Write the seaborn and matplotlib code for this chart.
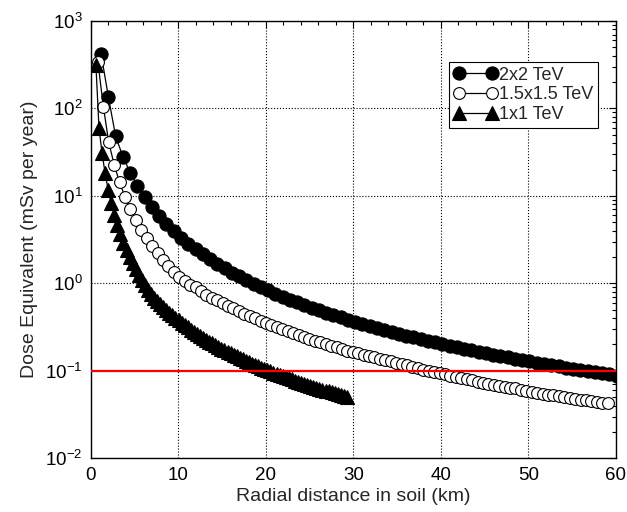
import matplotlib
matplotlib.use('Agg')
import matplotlib.pyplot as plt
from matplotlib.ticker import MultipleLocator, LogLocator, NullFormatter
import seaborn as sns

# Dose equivalent (mSv per year) vs radial distance in soil (km)
x_2x2 = [1.17, 2.00, 2.83, 3.66, 4.49, 5.32, 6.15, 6.98, 7.81, 8.64, 9.47, 10.30, 11.13, 11.96,
         12.79, 13.62, 14.45, 15.28, 16.11, 16.94, 17.77, 18.60, 19.43, 20.26, 21.09, 21.92,
         22.75, 23.58, 24.41, 25.24, 26.07, 26.90, 27.73, 28.56, 29.39, 30.22, 31.05, 31.88,
         32.71, 33.54, 34.37, 35.20, 36.03, 36.86, 37.69, 38.52, 39.35, 40.18, 41.01, 41.84,
         42.67, 43.50, 44.33, 45.16, 45.99, 46.82, 47.65, 48.48, 49.31, 50.14, 50.97, 51.80,
         52.63, 53.46, 54.29, 55.12, 55.95, 56.78, 57.61, 58.44, 59.27, 60.10]
dose_2x2 = [417, 135, 47.8, 28.1, 18.5, 13.0, 9.66, 7.44, 5.90, 4.80, 3.97, 3.34, 2.85, 2.45,
            2.14, 1.88, 1.66, 1.48, 1.33, 1.20, 1.09, 0.988, 0.903, 0.829, 0.763, 0.705,
            0.653, 0.606, 0.564, 0.527, 0.493, 0.462, 0.434, 0.408, 0.385, 0.363, 0.344, 0.326,
            0.309, 0.293, 0.279, 0.266, 0.253, 0.241, 0.231, 0.221, 0.211, 0.202, 0.194, 0.186,
            0.179, 0.172, 0.165, 0.159, 0.153, 0.148, 0.142, 0.137, 0.133, 0.128, 0.124, 0.120,
            0.116, 0.112, 0.109, 0.105, 0.102, 0.0992, 0.0963, 0.0935, 0.0908, 0.0882]

x_15x15 = [0.80, 1.42, 2.04, 2.66, 3.28, 3.90, 4.52, 5.14, 5.76, 6.38, 7.00, 7.62, 8.24, 8.86,
           9.48, 10.10, 10.72, 11.34, 11.96, 12.58, 13.20, 13.82, 14.44, 15.06, 15.68, 16.30,
           16.92, 17.54, 18.16, 18.78, 19.40, 20.02, 20.64, 21.26, 21.88, 22.50, 23.12, 23.74,
           24.36, 24.98, 25.60, 26.22, 26.84, 27.46, 28.08, 28.70, 29.32, 29.94, 30.56, 31.18,
           31.80, 32.42, 33.04, 33.66, 34.28, 34.90, 35.52, 36.14, 36.76, 37.38, 38.00, 38.62,
           39.24, 39.86, 40.48, 41.10, 41.72, 42.34, 42.96, 43.58, 44.20, 44.82, 45.44, 46.06,
           46.68, 47.30, 47.92, 48.54, 49.16, 49.78, 50.40, 51.02, 51.64, 52.26, 52.88, 53.50,
           54.12, 54.74, 55.36, 55.98, 56.60, 57.22, 57.84, 58.46, 59.08]
dose_15x15 = [339, 105, 41.0, 22.7, 14.3, 9.72, 7.01, 5.27, 4.09, 3.26, 2.65, 2.20, 1.85, 1.57,
              1.35, 1.19, 1.07, 0.959, 0.897, 0.816, 0.745, 0.683, 0.637, 0.601, 0.557, 0.518,
              0.482, 0.450, 0.422, 0.397, 0.373, 0.351, 0.331, 0.313, 0.297, 0.282, 0.267, 0.254,
              0.242, 0.232, 0.221, 0.211, 0.202, 0.193, 0.185, 0.178, 0.170, 0.164, 0.158, 0.152,
              0.147, 0.142, 0.136, 0.132, 0.128, 0.123, 0.119, 0.115, 0.111, 0.108, 0.102, 0.0993,
              0.0964, 0.0934, 0.0907, 0.0881, 0.0856, 0.0832, 0.0801, 0.0779, 0.0750, 0.0730,
              0.0712, 0.0694, 0.0676, 0.0660, 0.0643, 0.0628, 0.0607, 0.0592, 0.0572, 0.0559,
              0.0546, 0.0534, 0.0522, 0.0511, 0.0500, 0.0489, 0.0479, 0.0469, 0.0459, 0.0450,
              0.0441, 0.0432, 0.0424]

x_1x1 = [0.57, 0.92, 1.27, 1.62, 1.97, 2.32, 2.67, 3.02, 3.37, 3.72, 4.07, 4.42, 4.77, 5.12,
         5.47, 5.82, 6.17, 6.52, 6.87, 7.22, 7.57, 7.92, 8.27, 8.62, 8.97, 9.32, 9.67, 10.02,
         10.37, 10.72, 11.07, 11.42, 11.77, 12.12, 12.47, 12.82, 13.17, 13.52, 13.87, 14.22,
         14.57, 14.92, 15.27, 15.62, 15.97, 16.32, 16.67, 17.02, 17.37, 17.72, 18.07, 18.42,
         18.77, 19.12, 19.47, 19.82, 20.17, 20.52, 20.87, 21.22, 21.57, 21.92, 22.27, 22.62,
         22.97, 23.32, 23.67, 24.02, 24.37, 24.72, 25.07, 25.42, 25.77, 26.12, 26.47, 26.82,
         27.17, 27.52, 27.87, 28.22, 28.57, 28.92, 29.27]
dose_1x1 = [316, 60.3, 31.0, 18.2, 11.8, 8.24, 6.05, 4.61, 3.62, 2.92, 2.39, 2.00, 1.69, 1.44,
            1.25, 1.09, 0.958, 0.849, 0.756, 0.678, 0.622, 0.574, 0.532, 0.494, 0.461, 0.431,
            0.403, 0.379, 0.355, 0.334, 0.314, 0.296, 0.280, 0.265, 0.251, 0.238, 0.227, 0.216,
            0.206, 0.196, 0.187, 0.179, 0.171, 0.164, 0.158, 0.151, 0.146, 0.140, 0.135, 0.130,
            0.125, 0.121, 0.116, 0.112, 0.109, 0.105, 0.102, 0.0984, 0.0954, 0.0924, 0.0897,
            0.0870, 0.0844, 0.0820, 0.0796, 0.0774, 0.0752, 0.0732, 0.0712, 0.0693, 0.0675,
            0.0658, 0.0641, 0.0625, 0.0610, 0.0595, 0.0581, 0.0567, 0.0553, 0.0541, 0.0528,
            0.0516, 0.0505]

limit_dose = 0.1
labels = ['2x2 TeV', '1.5x1.5 TeV', '1x1 TeV']

sns.set_style('white')
plt.rcParams['font.family'] = ['Liberation Sans', 'DejaVu Sans']
plt.rcParams['mathtext.default'] = 'regular'
plt.rcParams['xtick.direction'] = 'in'
plt.rcParams['ytick.direction'] = 'in'

fig = plt.figure(figsize=(6.27, 5.12), dpi=100)
ax = fig.add_axes([0.145, 0.105, 0.837, 0.854])

line_kw = dict(color='black', linewidth=0.9, markeredgecolor='black',
               markeredgewidth=0.8, ax=ax, errorbar=None, sort=False)
sns.lineplot(x=x_2x2, y=dose_2x2, marker='o', markersize=9.5, markerfacecolor='black',
             label=labels[0], **line_kw)
sns.lineplot(x=x_15x15, y=dose_15x15, marker='o', markersize=8.5, markerfacecolor='white',
             label=labels[1], **line_kw)
sns.lineplot(x=x_1x1, y=dose_1x1, marker='^', markersize=9.5, markerfacecolor='black',
             label=labels[2], **line_kw)

# annual limit line
ax.axhline(limit_dose, color='red', linewidth=1.6, zorder=5)

ax.set_yscale('log')
ax.set_xlim(0, 60)
ax.set_ylim(1e-2, 1e3)
ax.xaxis.set_major_locator(MultipleLocator(10))
ax.xaxis.set_minor_locator(MultipleLocator(2))
ax.yaxis.set_major_locator(LogLocator(base=10, numticks=10))
ax.yaxis.set_minor_locator(LogLocator(base=10, subs=range(2, 10), numticks=20))
ax.yaxis.set_minor_formatter(NullFormatter())
ax.tick_params(which='both', top=True, right=True, colors='black', labelsize=13.5)
ax.tick_params(which='major', length=5, width=0.8, pad=6)
ax.tick_params(which='minor', length=3, width=0.8)
ax.grid(True, which='major', color='black', linestyle=':', linewidth=0.8)
for s in ax.spines.values():
    s.set_color('black')
    s.set_linewidth(1.0)

ax.set_xlabel('Radial distance in soil (km)', fontsize=14, labelpad=3)
ax.set_ylabel('Dose Equivalent (mSv per year)', fontsize=14, labelpad=5)

leg = ax.legend(loc='upper right', bbox_to_anchor=(0.966, 0.906), borderaxespad=0,
                numpoints=2, handlelength=2.4, handletextpad=0.1, fontsize=13,
                frameon=True, fancybox=False, framealpha=1, edgecolor='black',
                borderpad=0.25, labelspacing=0.15)
leg.get_frame().set_linewidth(0.8)

fig.savefig('out.png', dpi=100)
